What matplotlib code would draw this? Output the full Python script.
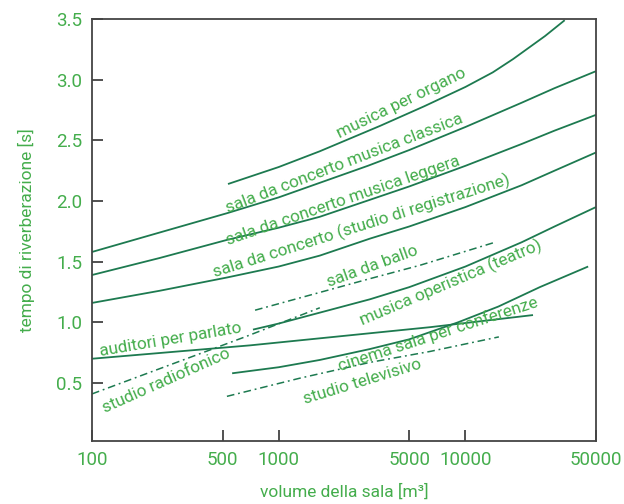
import matplotlib
matplotlib.use("Agg")
import matplotlib.pyplot as plt
from matplotlib.ticker import FixedLocator, NullLocator

plt.rcParams['font.family'] = ['Roboto', 'DejaVu Sans']

txt_col = '#44ad4c'
line_col = '#1d7a50'

# solid curves: volume [m3], reverberation time [s]
organo_v = [535, 1000, 1660, 3500, 6000, 10000, 14000, 18000, 26700, 34000]
organo_t = [2.14, 2.28, 2.41, 2.62, 2.78, 2.94, 3.06, 3.17, 3.36, 3.49]

classica_v = [100, 230, 530, 1000, 1660, 3000, 5000, 10000, 20000, 30000, 50000]
classica_t = [1.58, 1.74, 1.90, 2.03, 2.15, 2.29, 2.42, 2.61, 2.81, 2.93, 3.07]

leggera_v = [100, 230, 530, 1000, 1660, 3080, 5000, 10000, 20000, 30000, 50000]
leggera_t = [1.39, 1.53, 1.68, 1.78, 1.87, 2.01, 2.12, 2.29, 2.47, 2.58, 2.71]

regis_v = [100, 230, 530, 1000, 1660, 3080, 5000, 10000, 20000, 30000, 50000]
regis_t = [1.16, 1.26, 1.37, 1.46, 1.55, 1.69, 1.79, 1.95, 2.13, 2.25, 2.40]

operistica_v = [728, 1000, 1660, 3080, 5000, 10000, 20000, 30000, 50000]
operistica_t = [0.94, 0.99, 1.08, 1.19, 1.29, 1.46, 1.66, 1.79, 1.95]

auditori_v = [100, 700, 3080, 6460, 23000]
auditori_t = [0.70, 0.81, 0.91, 0.96, 1.06]

cinema_v = [563, 1000, 1660, 3080, 5000, 9120, 15000, 25000, 45400]
cinema_t = [0.58, 0.63, 0.69, 0.78, 0.86, 1.00, 1.13, 1.29, 1.46]

# dash-dot curves
radio_v = [100, 660, 1660]
radio_t = [0.41, 0.88, 1.12]

ballo_v = [747, 3080, 5700, 14400]
ballo_t = [1.10, 1.36, 1.47, 1.66]

tv_v = [528, 1300, 3080, 6460, 15100]
tv_t = [0.39, 0.54, 0.67, 0.76, 0.88]

# labels: text, volume, time, angle
labels = [
    ("musica per organo", 4520, 2.81, 26),
    ("sala da concerto musica classica", 2240, 2.31, 21),
    ("sala da concerto musica leggera", 2210, 2.00, 19),
    ("sala da concerto (studio di registrazione)", 2790, 1.79, 17.5),
    ("sala da ballo", 3160, 1.46, 20),
    ("musica operistica (teatro)", 8370, 1.33, 23),
    ("auditori per parlato", 262, 0.855, 9.5),
    ("studio radiofonico", 249, 0.52, 24),
    ("cinema sala per conferenze", 7130, 0.90, 18),
    ("studio televisivo", 2790, 0.51, 17),
]

xticks = [100, 500, 1000, 5000, 10000, 50000]
xticklabels = ["100", "500", "1000", "5000", "10000", "50000"]
yticks = [0.5, 1.0, 1.5, 2.0, 2.5, 3.0, 3.5]

fig = plt.figure(figsize=(6.24, 5.04), dpi=100)
ax = fig.add_axes([0.1474, 0.125, 0.8077, 0.8373])

for v, t in [(organo_v, organo_t), (classica_v, classica_t), (leggera_v, leggera_t),
             (regis_v, regis_t), (operistica_v, operistica_t),
             (auditori_v, auditori_t), (cinema_v, cinema_t)]:
    ax.plot(v, t, color=line_col, lw=1.3, solid_capstyle='butt', solid_joinstyle='round')

dd = (0, (5, 2.5, 1.2, 2.5))
for v, t in [(radio_v, radio_t), (ballo_v, ballo_t), (tv_v, tv_t)]:
    ax.plot(v, t, color=line_col, lw=1.1, linestyle=dd)

for s, v, t, a in labels:
    ax.text(v, t, s, color=txt_col, fontsize=12.3, rotation=a,
            rotation_mode='anchor', ha='center', va='center')

ax.set_xscale('log')
ax.set_xlim(100, 50000)
ax.set_ylim(0.022, 3.5)
ax.xaxis.set_major_locator(FixedLocator(xticks))
ax.xaxis.set_minor_locator(NullLocator())
ax.set_xticklabels(xticklabels)
ax.set_yticks(yticks)
ax.set_yticklabels(["%.1f" % y for y in yticks])

ax.tick_params(axis='both', direction='in', length=8, width=1.2, color='#333333',
               labelcolor=txt_col, labelsize=13.5)
ax.tick_params(axis='x', pad=7)
ax.tick_params(axis='y', pad=7)
for sp in ax.spines.values():
    sp.set_color('#444444')
    sp.set_linewidth(1.3)

ax.set_xlabel("volume della sala [m³]", color=txt_col, fontsize=12.5, labelpad=11)
ax.set_ylabel("tempo di riverberazione [s]", color=txt_col, fontsize=12.5, labelpad=15)

fig.savefig("out.png", dpi=100)
